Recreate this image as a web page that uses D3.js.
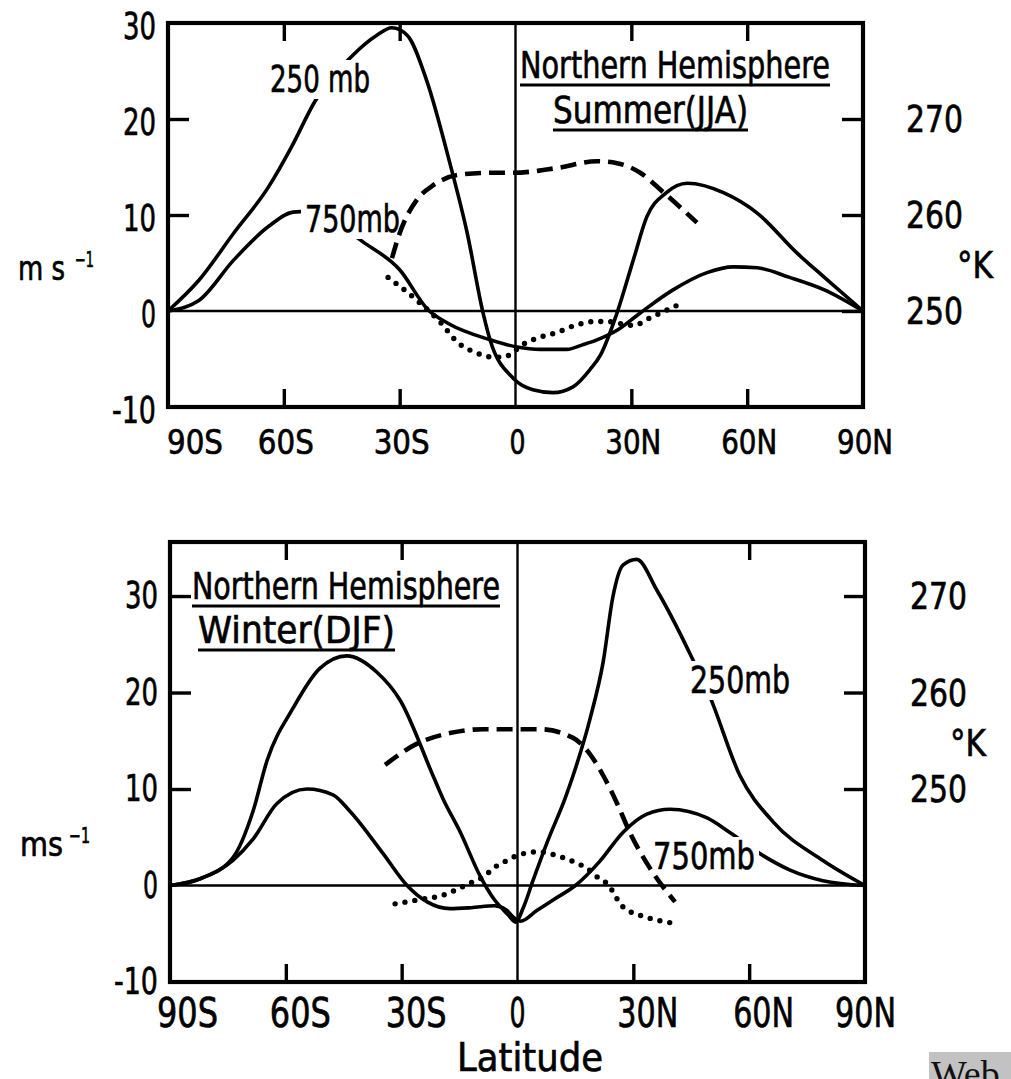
<!DOCTYPE html>
<html><head><meta charset="utf-8">
<script src="https://cdn.jsdelivr.net/npm/d3@7"></script>
<style>body{margin:0;background:#fff}svg{display:block}</style>
</head><body>
<svg id="c" width="1011" height="1079"></svg>
<script>
// ---------- DATA ----------
const latTickValues = [-90, -60, -30, 0, 30, 60, 90];
const latTickLabels = ["90S", "60S", "30S", "0", "30N", "60N", "90N"];
const windTickValues = [30, 20, 10, 0, -10];
const tempTickValues = [270, 260, 250];
const tempUnit = "°K";
const windUnitTop = "m s";
const windUnitBottom = "ms";
const windUnitSup = "−1";
const xTitle = "Latitude";

// Northern Hemisphere Summer (JJA)
const jjaTitle = ["Northern Hemisphere", "Summer(JJA)"];
const jjaSeriesNames = ["250 mb", "750mb"];
const jja250Lat = [-90, -82, -73, -64, -58, -52, -42, -36, -32, -28, -23, -17, -12.5, -8.4, -6.6, -0.6, 4.5, 9.7, 14.9, 19.3, 22, 26.3, 30.5, 34, 39, 44.5, 54, 62.6, 73, 80, 90];
const jja250Val = [0, 3.2, 8.1, 12.9, 17.1, 21.8, 26.7, 28.7, 29.5, 28.7, 24, 15.4, 8.1, -0.2, -3.0, -7.0, -8.2, -8.5, -7.9, -6.1, -4.6, -0.2, 5.3, 9.8, 12.3, 13.3, 12.3, 10.2, 6.0, 3.5, 0];
const jja750Lat = [-90, -82, -73, -64, -57.6, -52, -46, -39.5, -30, -22.6, -17.4, -6.6, 0.4, 6.4, 13.3, 17.5, 21.1, 26.3, 32.3, 40.8, 49.6, 56.4, 62.6, 71, 80, 90];
const jja750Val = [0, 1.1, 5.3, 8.8, 10.3, 10.4, 9.0, 7.2, 4.3, 0.1, -1.3, -3.0, -3.75, -4.0, -4.0, -3.5, -3.0, -2.0, -0.2, 2.2, 4.0, 4.6, 4.5, 3.5, 2.2, 0];
const jjaDashLat = [-32, -30, -25.5, -21.3, -14.4, -6.6, -0.6, 10.8, 21.1, 26.3, 32.3, 38.2, 47];
const jjaDashVal = [5.5, 8.1, 11.6, 13.1, 14.2, 14.4, 14.4, 14.9, 15.6, 15.4, 14.4, 12.4, 9.2];
const jjaDotLat = [-33, -25.5, -19.3, -14.9, -10.5, -5.8, -3.2, 2.7, 5.8, 11, 15.4, 20.6, 23.7, 30.5, 34.9, 41.9];
const jjaDotVal = [3.5, 1.1, -1.25, -3.3, -4.3, -4.8, -4.8, -3.3, -2.8, -2.2, -1.5, -1.1, -1.1, -1.5, -0.7, 0.6];

// Northern Hemisphere Winter (DJF)
const djfTitle = ["Northern Hemisphere", "Winter(DJF)"];
const djfSeriesNames = ["250mb", "750mb"];
const djf250Lat = [-90, -82.2, -73.7, -68.5, -64.9, -58.1, -51.2, -44.2, -36.4, -30.4, -21.9, -19.3, -14.9, -9.7, -6.3, -2.5, -0.5, 1.5, 4, 7.9, 12.3, 14.4, 18.8, 22.2, 24.7, 27.3, 30.9, 36.1, 44.7, 49.9, 57.6, 66.2, 79.1, 90];
const djf250Val = [0, 0.7, 2.9, 7.7, 12.9, 18.4, 22.5, 23.8, 22.1, 19.2, 11.4, 9.0, 5.6, 1.0, -1.3, -3.0, -3.8, -2.3, 0.5, 4.7, 9.0, 11.4, 17.3, 23.2, 29.9, 33.2, 33.8, 30.6, 24.0, 19.5, 11.4, 6.6, 2.6, 0];
const djf750Lat = [-90, -82.2, -73.7, -68.5, -62.3, -54.5, -47.8, -43.4, -34.8, -28.6, -23.4, -17.5, -12, -6, -3, -1, 0.8, 5, 10, 15, 21.3, 27.3, 33.5, 39.5, 49.1, 55, 63.6, 70.6, 79.1, 90];
const djf750Val = [0, 0.7, 2.6, 4.8, 8.5, 10.0, 9.4, 7.7, 3.3, 0, -1.7, -2.4, -2.3, -2.1, -2.5, -3.3, -3.7, -2.6, -1.3, 0, 2.5, 5.5, 7.4, 7.9, 7.0, 5.5, 3.1, 1.6, 0.5, 0];
const djfDashLat = [-34.3, -26, -17.5, -8.9, -0.6, 5.8, 14.4, 18.8, 22.2, 25.8, 29.1, 34.3, 40.8];
const djfDashVal = [12.5, 14.7, 15.8, 16.2, 16.2, 16.2, 15.3, 13.6, 11.4, 8.5, 5.5, 1.8, -1.7];
const djfDotLat = [-31.7, -26, -19.3, -16.2, -11.5, -8.4, -6.3, -4.0, -1.9, 0.6, 2.7, 5.3, 8.4, 11.0, 13.1, 15.4, 18.0, 20.6, 23.2, 27.3, 33.5, 40.3];
const djfDotVal = [-1.9, -1.5, -1.0, -0.5, 0.4, 1.0, 1.8, 2.3, 2.8, 3.2, 3.4, 3.5, 3.3, 3.0, 2.7, 2.3, 1.8, 0.9, 0.2, -2.2, -3.3, -3.9];

const watermark = "Web";

// ---------- DRAW ----------
const FONT = "'DejaVu Sans','Liberation Sans',sans-serif";
const svg = d3.select("#c");
const zip = (a, b) => a.map((v, i) => [v, b[i]]);

function txt(parent, s, tx, ty, size, width, anchor) {
  const t = parent.append("text").attr("x", tx).attr("y", ty)
    .attr("font-family", FONT).attr("font-size", size).attr("text-anchor", anchor || "start")
    .attr("fill", "#000").attr("stroke", "#000").attr("stroke-width", 0.7).text(s);
  if (width) t.attr("textLength", width).attr("lengthAdjust", "spacingAndGlyphs");
  return t;
}

function drawPanel(p) {
  const x = d3.scaleLinear().domain([-90, 90]).range([p.left, p.right]);
  const y = d3.scaleLinear().domain(p.vDomain).range([p.bottom, p.top]);
  const k = d3.scaleLinear().domain(p.vDomain.map(v => v + p.kOffset)).range([p.bottom, p.top]);
  const g = svg.append("g");

  g.append("line").attr("x1", p.left).attr("x2", p.right).attr("y1", y(0)).attr("y2", y(0))
    .attr("stroke", "#000").attr("stroke-width", 2.4);
  g.append("line").attr("x1", x(0)).attr("x2", x(0)).attr("y1", p.top).attr("y2", p.bottom)
    .attr("stroke", "#000").attr("stroke-width", 2.4);

  const tickStyle = s => { s.select(".domain").remove(); s.selectAll("line").attr("stroke", "#000").attr("stroke-width", 3.4); s.selectAll("text").remove(); };
  g.append("g").attr("transform", `translate(${p.left},0)`)
    .call(d3.axisRight(y).tickValues(p.sideTicks).tickSize(21)).call(tickStyle);
  g.append("g").attr("transform", `translate(${p.right},0)`)
    .call(d3.axisLeft(k).tickValues(tempTickValues).tickSize(21)).call(tickStyle);
  g.append("g").attr("transform", `translate(0,${p.top})`)
    .call(d3.axisBottom(x).tickValues(p.topTicks).tickSize(18)).call(tickStyle);
  g.append("g").attr("transform", `translate(0,${p.bottom})`)
    .call(d3.axisTop(x).tickValues(p.bottomTicks).tickSize(18)).call(tickStyle);

  const line = d3.line().x(d => x(d[0])).y(d => y(d[1])).curve(d3.curveMonotoneX);
  const gSolid = g.append("g"), gMask = g.append("g"), gBroken = g.append("g"), gText = g.append("g");

  [p.s250, p.s750].forEach(s => gSolid.append("path").attr("d", line(s)).attr("fill", "none")
    .attr("stroke", "#000").attr("stroke-width", 3.6).attr("stroke-linejoin", "round").attr("stroke-linecap", "round"));
  gBroken.append("path").attr("d", line(p.dash)).attr("fill", "none").attr("stroke", "#000").attr("stroke-width", 4.6)
    .attr("stroke-dasharray", "16 8");
  gBroken.append("path").attr("d", line(p.dot)).attr("fill", "none").attr("stroke", "#000").attr("stroke-width", 5.4)
    .attr("stroke-linecap", "round").attr("stroke-dasharray", "0 10");

  g.append("rect").attr("x", p.left).attr("y", p.top).attr("width", p.right - p.left).attr("height", p.bottom - p.top)
    .attr("fill", "none").attr("stroke", "#000").attr("stroke-width", 4.2);

  // left labels
  windTickValues.forEach(v => {
    const s = v < 0 ? "-" + Math.abs(v) : String(v);
    txt(g, s, p.left - 12, y(v) + p.yLabDy, 37, s.length === 1 ? 15 : s.length === 2 ? 33 : 44, "end");
  });
  // right labels
  tempTickValues.forEach(v => txt(g, String(v), p.right + p.rLabDx, k(v) + 13, 37, 57));
  txt(g, tempUnit, p.right + p.kUnitDx, (k(260) + k(250)) / 2 + 15, 38, 36);
  // bottom labels
  latTickValues.forEach((v, i) => {
    const pos = p.xLabPos(x, v, i);
    const s = latTickLabels[i];
    txt(g, s, pos[0], p.bottom + p.xLabDy, p.xLabSize, s.length === 1 ? 16 : p.xLabW, pos[1]);
  });
  // unit
  txt(g, p.unit, p.unitX, p.unitY, 33, p.unitW);
  txt(g, windUnitSup, p.supX, p.unitY - 13, 21, p.supW);

  // titles with underline
  p.title.forEach((t, i) => {
    const tp = p.titlePos[i];
    txt(gText, t, tp[0], tp[1], 38, tp[2]);
    gText.append("line").attr("x1", tp[0]).attr("x2", tp[0] + tp[2]).attr("y1", tp[1] + 7).attr("y2", tp[1] + 7)
      .attr("stroke", "#000").attr("stroke-width", 3);
  });
  // series labels with gaps in the curves
  p.labPos.forEach((lp, i) => {
    const el = txt(gText, p.names[i], lp[0], lp[1], 37, lp[2]);
    const bb = el.node().getBBox();
    gMask.append("rect").attr("x", bb.x - 4).attr("y", bb.y + 2).attr("width", bb.width + 8).attr("height", bb.height - 4).attr("fill", "#fff");
  });
}

drawPanel({
  left: 168, right: 863, top: 23, bottom: 407, vDomain: [-10, 30], kOffset: 250,
  sideTicks: [20, 10], topTicks: [-60, -30, 30, 60], bottomTicks: [-60, -30, 30, 60],
  s250: zip(jja250Lat, jja250Val), s750: zip(jja750Lat, jja750Val),
  dash: zip(jjaDashLat, jjaDashVal), dot: zip(jjaDotLat, jjaDotVal),
  yLabDy: 16, rLabDx: 43, kUnitDx: 94, xLabDy: 47, xLabSize: 33, xLabW: 56,
  xLabPos: (x, v, i) => i === 0 ? [x(v) - 1, "start"] : [x(v) + 2, "middle"],
  unit: windUnitTop, unitX: 18, unitW: 47, supX: 75, supW: 19, unitY: 280,
  title: jjaTitle, titlePos: [[520, 78, 310], [553, 123, 195]],
  names: jjaSeriesNames, labPos: [[270, 92, 100], [305, 232, 95]]
});
drawPanel({
  left: 170, right: 865, top: 542, bottom: 982, vDomain: [-10, 35.6], kOffset: 240,
  sideTicks: [30, 20, 10], topTicks: [-60, -30, 60], bottomTicks: [-60, -30, 30, 60],
  s250: zip(djf250Lat, djf250Val), s750: zip(djf750Lat, djf750Val),
  dash: zip(djfDashLat, djfDashVal), dot: zip(djfDotLat, djfDotVal),
  yLabDy: 12, rLabDx: 45, kUnitDx: 85, xLabDy: 45, xLabSize: 40, xLabW: 61,
  xLabPos: (x, v, i) => i === 0 ? [x(v) - 13, "start"] : i === 3 ? [x(v), "middle"] : i === 6 ? [x(v) - 30, "start"] : [x(v) - 16, "start"],
  unit: windUnitBottom, unitX: 20, unitW: 43, supX: 69, supW: 21, unitY: 856,
  title: djfTitle, titlePos: [[192, 599, 308], [198, 643, 197]],
  names: djfSeriesNames, labPos: [[690, 693, 100], [653, 869, 102]]
});

txt(svg, xTitle, 457, 1071, 39, 146);
svg.append("rect").attr("x", 929).attr("y", 1052).attr("width", 82).attr("height", 27).attr("fill", "#c2c2c2");
svg.append("text").attr("x", 931).attr("y", 1087).attr("font-family", "'Liberation Serif','Times New Roman',serif").attr("font-size", 38).attr("fill", "#111").text(watermark);
</script>
</body></html>
